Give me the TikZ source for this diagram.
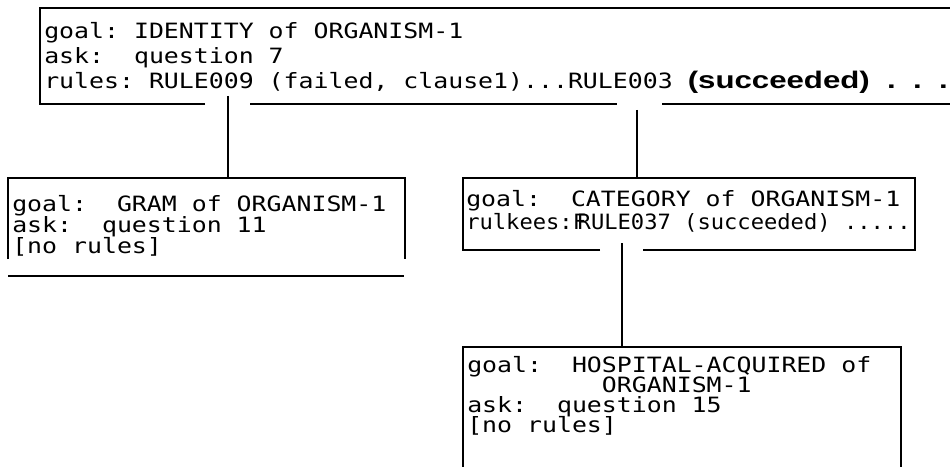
\documentclass[tikz,border=0pt]{standalone}
\usepackage{fontspec}
\usepackage{tikz}
\newfontfamily\plotfont[FakeStretch=1.18]{DejaVu Sans Mono}
\newfontfamily\plotnarrow[FakeStretch=1.05]{DejaVu Sans Mono}
\newfontfamily\plotbold[FakeStretch=1.3]{Liberation Sans Bold}
\usetikzlibrary{calc}
\tikzset{%
  goaltext/.style={anchor=base west, inner sep=0pt, align=left,
    font=\plotfont\fontsize{15.8}{#1}\selectfont},% text of one goal, placed at its last line
  goaltext/.default=18.75,
  frame/.style={line width=1.5pt},% box outline
  heavy/.style={line width=2.2pt},% thick box outline
  link/.style={line width=1.4pt}% goal to subgoal
}
\newcommand*{\okmark}{{\plotbold\fontsize{18}{12}\selectfont (succeeded)\ \ .\ \ .\ \ .}}
\frenchspacing
\lineskiplimit=-20pt

\begin{document}
\begin{tikzpicture}[x=0.75pt, y=-0.75pt]
\useasboundingbox (0,0) rectangle (950,467);

\node[goaltext] (identity) at (44,89) {goal: IDENTITY of ORGANISM-1\\ask:\ \ question 7\\rules: RULE009 (failed, clause1)...RULE003 \okmark};
\node[goaltext=15.75] (gram) at (12,253) {goal:\ \ GRAM of ORGANISM-1\\ask:\ \ question 11\\{[}no rules{]}};
\node[goaltext=17.25] (category) at (466,229) {goal:\ \ CATEGORY of ORGANISM-1\\{\plotnarrow rulkees:F\kern-.4em RULE037 (succeeded) .....}};
\node[goaltext=15] (hospital) at (467,432) {goal:\ \ HOSPITAL-ACQUIRED of\\\hphantom{000000000}ORGANISM-1\\ask:\ \ question 15\\{[}no rules{]}};

% box outlines
\draw[heavy] (205,104) -- (40,104) -- (40,8) -- (950,8);
\draw[heavy] (250,104) -- (617,104);
\draw[heavy] (662,104) -- (950,104);
\draw[frame] (8,259) -- (8,178) -- (405,178) -- (405,259);
\draw[heavy] (8,276) -- (404,276);
\draw[frame] (600,250) -- (463,250) -- (463,178) -- (915,178) -- (915,250) -- (643,250);
\draw[heavy] (463,467) -- (463,347) -- (901,347) -- (901,467);

% connectors
\coordinate (identity-out1) at (228,96);
\coordinate (identity-out2) at (637,110);
\coordinate (category-out) at (622,243);
\coordinate (gram-top) at (228,178);
\coordinate (category-top) at (637,178);
\coordinate (hospital-top) at (622,347);
\draw[link] (identity-out1) -- (gram-top);
\draw[link] (identity-out2) -- (category-top);
\draw[link] (category-out) -- (hospital-top);
\end{tikzpicture}
\end{document}
